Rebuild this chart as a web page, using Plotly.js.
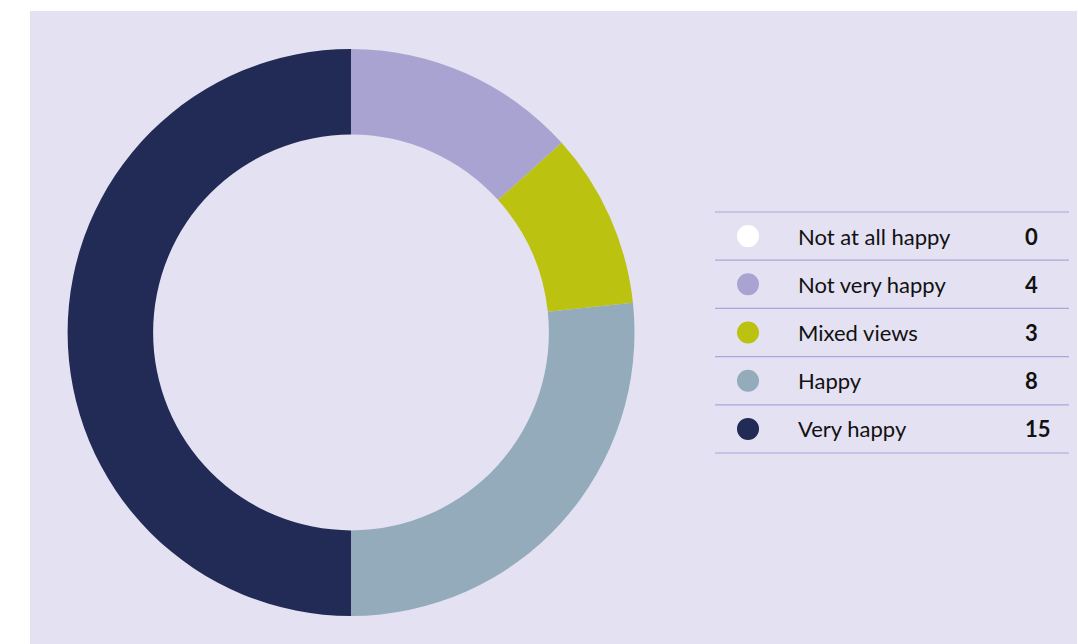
<!DOCTYPE html>
<html>
<head>
<meta charset="utf-8">
<script src="https://cdn.plot.ly/plotly-3.0.1.min.js"></script>
<style>html,body{margin:0;padding:0;background:#fff;}#chart{width:1078px;height:644px;}</style>
</head>
<body>
<div id="chart"></div>
<script>
const categories = ["Not at all happy", "Not very happy", "Mixed views", "Happy", "Very happy"];
const values = [0, 4, 3, 8, 15];
const colors = ["#FFFFFF", "#A9A3D2", "#BBC20F", "#93ABBA", "#212B55"];

const W = 1078, H = 644;
const px = x => x / W;
const py = y => 1 - y / H;

const shapes = [{
  type: "rect", xref: "paper", yref: "paper", layer: "below",
  x0: px(30), x1: px(1077), y0: 0, y1: py(11),
  fillcolor: "#E4E1F2", line: {width: 0}
}];
const annotations = [];
const top0 = 212, rowH = 48.2;
for (let i = 0; i <= categories.length; i++) {
  const y = top0 + i * rowH;
  shapes.push({type: "line", xref: "paper", yref: "paper", x0: px(715), x1: px(1069), y0: py(y), y1: py(y),
    line: {color: "#ABA5DA", width: 1.2}});
}
const font = {family: "Lato, 'Open Sans', sans-serif", size: 22, color: "#111"};
categories.forEach((c, i) => {
  const yc = top0 + (i + 0.5) * rowH;
  shapes.push({type: "circle", xref: "paper", yref: "paper",
    x0: px(737), x1: px(759), y0: py(yc - 11), y1: py(yc + 11),
    fillcolor: colors[i], line: {width: 0}});
  annotations.push({xref: "paper", yref: "paper", x: px(796), y: py(yc), xanchor: "left", yanchor: "middle",
    text: c, showarrow: false, font: font});
  annotations.push({xref: "paper", yref: "paper", x: px(1023), y: py(yc), xanchor: "left", yanchor: "middle",
    text: "<b>" + values[i] + "</b>", showarrow: false, font: font});
});

const trace = {
  type: "pie", labels: categories, values: values,
  marker: {colors: colors, line: {width: 0}},
  hole: 0.698, sort: false, direction: "clockwise", rotation: 0,
  textinfo: "none", hoverinfo: "none", showlegend: false,
  domain: {x: [px(67.5), px(634.5)], y: [28 / H, 595 / H]}
};

Plotly.newPlot("chart", [trace], {
  width: W, height: H, margin: {l: 0, r: 0, t: 0, b: 0},
  paper_bgcolor: "#FFFFFF", showlegend: false,
  shapes: shapes, annotations: annotations
}, {displayModeBar: false, staticPlot: true});
</script>
</body>
</html>
